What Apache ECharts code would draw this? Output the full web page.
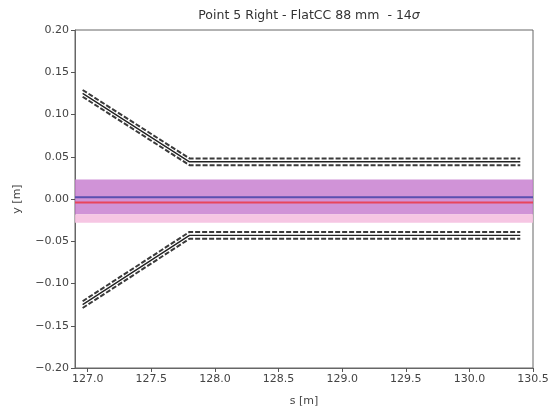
<!DOCTYPE html>
<html>
<head>
<meta charset="utf-8">
<script src="https://cdn.jsdelivr.net/npm/echarts@6/dist/echarts.min.js"></script>
<style>
  html, body { margin: 0; padding: 0; background: #fff; }
  #chart { width: 554px; height: 415px; }
</style>
</head>
<body>
<div id="chart"></div>
<script>
// collimator jaw (s, y) values
var sJaw = [126.96, 127.80, 130.40];
var yUpperOuter = [0.129, 0.048, 0.048];
var yUpperMid = [0.125, 0.044, 0.044];
var yUpperInner = [0.121, 0.040, 0.040];
var yLowerInner = [-0.121, -0.039, -0.039];
var yLowerMid = [-0.125, -0.043, -0.043];
var yLowerOuter = [-0.129, -0.047, -0.047];

// beam envelope bands and orbits, spanning the whole s range
var sOrbit = [126.9, 130.5];
var bandPurple = [0.023, -0.018];
var bandPink = [-0.018, -0.028];
var orbitBlue = [0.002, 0.002];
var orbitRed = [-0.004, -0.004];

var xTicks = [127.0, 127.5, 128.0, 128.5, 129.0, 129.5, 130.0, 130.5];

function pts(xs, ys) {
  return xs.map(function (s, i) { return [s, ys[i]]; });
}

var font = "DejaVu Sans";

function jawLine(ys, dashed) {
  return {
    type: "line",
    data: pts(sJaw, ys),
    symbol: "none",
    silent: true,
    lineStyle: {
      color: dashed ? "#3a3a3a" : "#222",
      width: dashed ? 2 : 1.4,
      type: dashed ? [5, 2] : "solid"
    },
    z: 5
  };
}

function orbitLine(ys, color) {
  return {
    type: "line",
    data: pts(sOrbit, ys),
    symbol: "none",
    silent: true,
    lineStyle: { color: color, width: 2 },
    z: 4
  };
}

var chart = echarts.init(document.getElementById("chart"));
chart.setOption({
  animation: false,
  title: {
    text: "{a|Point 5 Right - FlatCC 88 mm  - 14}{b|σ}",
    left: 304,
    top: 4,
    textAlign: "center",
    textStyle: {
      fontWeight: "normal",
      rich: {
        a: { fontFamily: font, fontSize: 12.5, color: "#333", fontWeight: "normal" },
        b: { fontFamily: font, fontSize: 12.5, color: "#333", fontWeight: "normal", fontStyle: "italic" }
      }
    }
  },
  grid: {
    left: 75, right: 21, top: 30, bottom: 47,
    show: true, borderColor: "#666", borderWidth: 1
  },
  xAxis: {
    type: "value",
    min: 126.9,
    max: 130.5,
    name: "s [m]",
    nameLocation: "middle",
    nameGap: 28,
    nameTextStyle: { fontFamily: font, fontSize: 11, color: "#444" },
    axisLine: { onZero: false, lineStyle: { color: "#666" } },
    axisTick: { show: true, length: 4, lineStyle: { color: "#555" }, customValues: xTicks },
    axisLabel: {
      fontFamily: font, fontSize: 11, color: "#444", margin: 6,
      customValues: xTicks,
      formatter: function (v) { return v.toFixed(1); }
    },
    splitLine: { show: false }
  },
  yAxis: {
    type: "value",
    min: -0.2,
    max: 0.2,
    interval: 0.05,
    name: "y [m]",
    nameLocation: "middle",
    nameGap: 52,
    nameTextStyle: { fontFamily: font, fontSize: 11, color: "#444" },
    axisLine: { show: true, onZero: false, lineStyle: { color: "#666" } },
    axisTick: { show: true, length: 4, lineStyle: { color: "#555" } },
    axisLabel: {
      fontFamily: font, fontSize: 11, color: "#444", margin: 6,
      formatter: function (v) { return v.toFixed(2).replace("-", "\u2212"); }
    },
    splitLine: { show: false }
  },
  series: [
    {
      type: "line",
      data: [],
      silent: true,
      markArea: {
        silent: true,
        data: [
          [{ yAxis: bandPurple[0], itemStyle: { color: "rgba(200,128,208,0.85)" } }, { yAxis: bandPurple[1] }],
          [{ yAxis: bandPink[0], itemStyle: { color: "rgba(245,192,224,0.9)" } }, { yAxis: bandPink[1] }]
        ]
      }
    },
    orbitLine(orbitBlue, "#5a4fb0"),
    orbitLine(orbitRed, "#e8455c"),
    jawLine(yUpperOuter, true),
    jawLine(yUpperMid, false),
    jawLine(yUpperInner, true),
    jawLine(yLowerInner, true),
    jawLine(yLowerMid, false),
    jawLine(yLowerOuter, true)
  ]
});
</script>
</body>
</html>
